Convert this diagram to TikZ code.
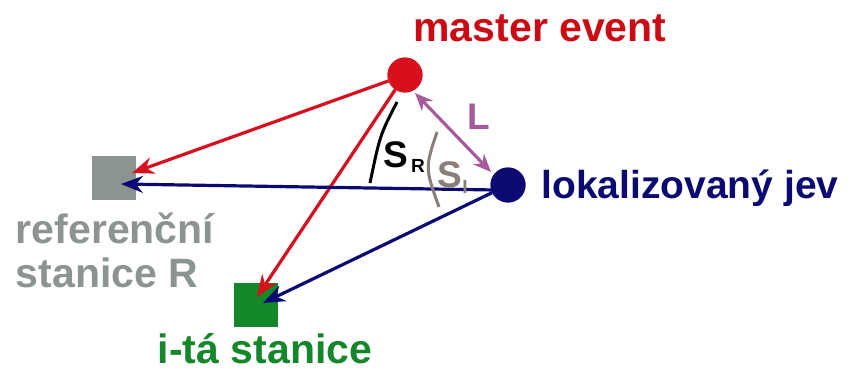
\documentclass[tikz,border=0pt]{standalone}
\usepackage{fontspec}
\setmainfont{Liberation Sans}
\usetikzlibrary{arrows.meta}
\definecolor{mred}{HTML}{D8101E}
\definecolor{mredtxt}{HTML}{CC0A14}
\definecolor{mnavy}{HTML}{0A0A72}
\definecolor{mgray}{HTML}{8C9490}
\definecolor{mgreen}{HTML}{13872A}
\definecolor{mpurple}{HTML}{A65A9C}
\definecolor{mbrown}{HTML}{8A7F78}
\tikzset{
  lbl/.style={font=\bfseries\fontsize{41}{44}\selectfont, inner sep=0pt},
  ev/.style={circle, minimum size=35pt, inner sep=0pt},
  sta/.style={minimum size=44pt, inner sep=0pt},
  arr/.style={line width=3.2pt, -{Stealth[length=22pt,width=17pt]}},
}
\begin{document}
\begin{tikzpicture}[x=1pt,y=-1pt]
\useasboundingbox (0,0) rectangle (865,372);
% stations and events
\node[sta, fill=mgray] (R) at (114,178) {};
\node[sta, fill=mgreen] (I) at (256,305) {};
\coordinate (tipRr) at (132,173);
\coordinate (tipRb) at (121,184);
\coordinate (tipIr) at (257,297);
\coordinate (tipIb) at (263,303);
% arrows
\node[ev, fill=mred] (M) at (405,75) {};
\node[ev, fill=mnavy] (J) at (508,185) {};
\coordinate (Jw) at (495,190);
\draw[arr, mred] (M) -- (tipRr);
\draw[arr, mred] (M) -- (tipIr);
\draw[arr, mnavy] (Jw) -- (tipRb);
\draw[arr, mnavy] (J) -- (tipIb);
\node[ev, fill=mred] at (M) {};
\node[ev, fill=mnavy] at (J) {};
% L
\coordinate (La) at (415,93);
\coordinate (Lb) at (491,172);
\draw[line width=3.2pt, mpurple, {Stealth[length=18pt,width=15pt]}-{Stealth[length=18pt,width=15pt]}] (La) -- (Lb);
\node[lbl, mpurple, font=\bfseries\fontsize{37}{40}\selectfont] (L) at (479,117) {L};
% arcs
\coordinate (a1) at (397,102);
\coordinate (a2) at (370,183);
\draw[line width=3pt, black] (a1) .. controls (380,135) .. (a2);
\coordinate (b1) at (437,132);
\coordinate (b2) at (439,207);
\draw[line width=3pt, mbrown] (b1) .. controls (425,168) .. (b2);
\node[inner sep=0pt, font=\bfseries\fontsize{37}{40}\selectfont] (SR) at (396,155) {S};
\node[inner sep=0pt, font=\bfseries\fontsize{19}{22}\selectfont] (SRs) at (418,166) {R};
\node[inner sep=0pt, mbrown, font=\bfseries\fontsize{37}{40}\selectfont] (SI) at (450,175) {S};
\node[inner sep=0pt, mbrown, font=\bfseries\fontsize{19}{22}\selectfont] (SIs) at (465,187) {I};
% labels
\node[lbl, mredtxt] (tM) at (540,28) {master event};
\node[lbl, mnavy, font=\bfseries\fontsize{39}{44}\selectfont] (tJ) at (690,188) {lokalizovaný jev};
\node[lbl, mgray, align=left] (tR) at (115,250) {referenční\\stanice R};
\node[lbl, mgreen] (tI) at (265,349) {i-tá stanice};
\end{tikzpicture}
\end{document}
